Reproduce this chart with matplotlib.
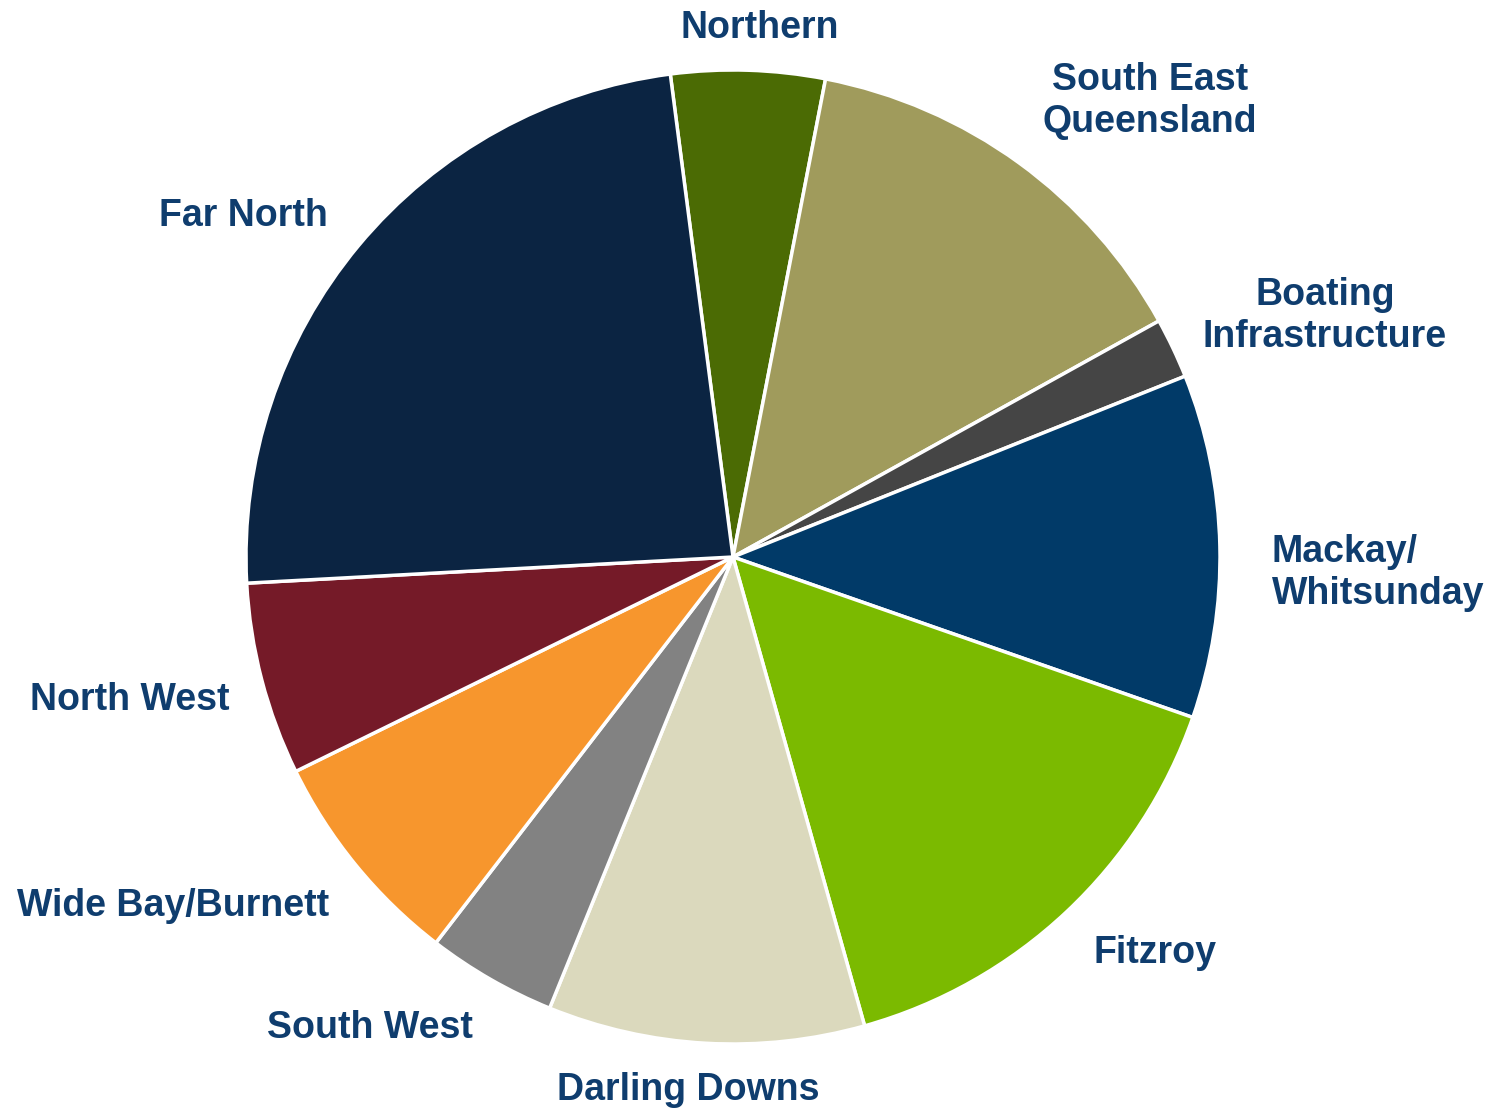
import matplotlib.pyplot as plt

# slice sizes (degrees of arc, as %)
regions = ["Northern", "South East Queensland", "Boating Infrastructure",
           "Mackay/ Whitsunday", "Fitzroy", "Darling Downs", "South West",
           "Wide Bay/Burnett", "North West", "Far North"]
shares = [5.1, 13.9, 2.0, 11.4, 15.3, 10.5, 4.3, 7.3, 6.4, 23.8]
colors = ["#4b6b04", "#a09b5c", "#454545", "#013a68", "#7bba00",
          "#dbd9bd", "#828282", "#f7962d", "#751a28", "#0b2442"]
label_text = ["Northern", "South East\nQueensland", "Boating\nInfrastructure",
              "Mackay/\nWhitsunday", "Fitzroy", "Darling Downs", "South West",
              "Wide Bay/Burnett", "North West", "Far North"]

W, H = 1488, 1108
cx, cy, R = 733, 557, 487

fig = plt.figure(figsize=(W / 100, H / 100), dpi=100)
ax = fig.add_axes([0, 0, 1, 1])
ax.pie(shares, colors=colors, startangle=97.4, counterclock=False, radius=1,
       wedgeprops=dict(edgecolor="white", linewidth=2.5))
ax.set_xlim(-cx / R, (W - cx) / R)
ax.set_ylim(-(H - cy) / R, cy / R)
ax.set_aspect("equal")
ax.axis("off")


def px(x, y):
    return (x - cx) / R, (cy - y) / R


# label spots in pixels of the original picture
spots = [(760, 28, "center"), (1150, 101, "center"), (1325, 316, "center"),
         (1272, 573, "left"), (1155, 953, "center"), (688, 1090, "center"),
         (370, 1028, "center"), (173, 906, "center"), (130, 700, "center"),
         (243, 216, "center")]
for txt, (x, y, ha) in zip(label_text, spots):
    xx, yy = px(x, y)
    ax.text(xx, yy, txt, ha=ha, va="center", fontsize=27, fontweight="bold",
            family="Liberation Sans", color="#0f3d6e", linespacing=1.18)

fig.savefig("out.png", dpi=100)
